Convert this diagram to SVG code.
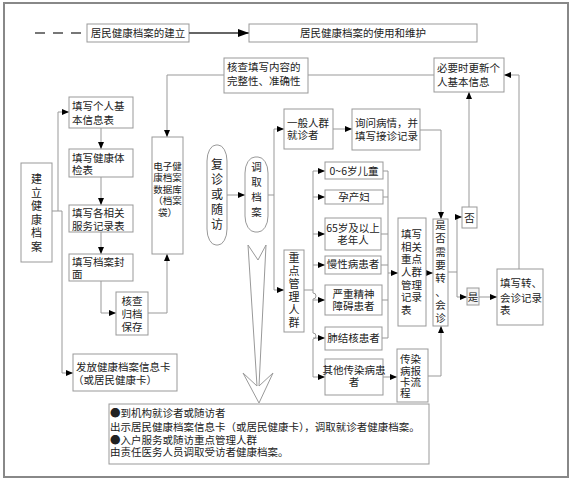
<svg xmlns="http://www.w3.org/2000/svg" width="573" height="480" viewBox="0 0 573 480">
<style>
.b{fill:#fff;stroke:#999;stroke-width:1}
.t{font-family:"Noto Sans CJK SC","Noto Sans",sans-serif;font-size:10.5px;fill:#222}
.s{font-size:9.5px}
.v{font-size:11px}
.c{text-anchor:middle}
.ln{fill:none;stroke:#999;stroke-width:1}
</style>
<defs>
<marker id="ah" markerWidth="7" markerHeight="6" refX="7" refY="3" orient="auto" markerUnits="userSpaceOnUse"><path d="M0,0 L7,3 L0,6 z" fill="#000"/></marker>
<marker id="ah2" markerWidth="11" markerHeight="8" refX="11" refY="4" orient="auto" markerUnits="userSpaceOnUse"><path d="M0,0 L11,4 L0,8 z" fill="#000"/></marker>
</defs>
<rect x="4" y="3" width="564" height="474" fill="#fff" stroke="#888" stroke-width="2"/>

<g id="legend">
<line x1="35" y1="33" x2="86" y2="33" stroke="#777" stroke-width="2" stroke-dasharray="10,8"/>
<rect class="b" x="87" y="24" width="102" height="18"/>
<text class="t c" x="138" y="37">居民健康档案的建立</text>
<line x1="189" y1="33" x2="249" y2="33" stroke="#666" stroke-width="2" marker-end="url(#ah2)"/>
<rect class="b" x="249" y="24" width="228" height="18"/>
<text class="t c" x="363" y="37">居民健康档案的使用和维护</text>
</g>

<g id="chevron">
<polygon points="248,245 258,260 266,245 259,386 273,373 259,403 243,373 257,386" fill="#fff" stroke="#999" stroke-width="1"/>
</g>

<g id="connectors">
<path class="ln" d="M52,211 H58 V112 H69" marker-end="url(#ah)"/>
<path class="ln" d="M58,211 H62 V373 H73" marker-end="url(#ah)"/>
<path class="ln" d="M101,128 V149" marker-end="url(#ah)"/>
<path class="ln" d="M101,177 V205" marker-end="url(#ah)"/>
<path class="ln" d="M101,232 V254" marker-end="url(#ah)"/>
<path class="ln" d="M101,281 V313 H116" marker-end="url(#ah)"/>
<path class="ln" d="M148,313 H167 V254" marker-end="url(#ah)"/>
<path class="ln" d="M224,75 H167 V137" marker-end="url(#ah)"/>
<path class="ln" d="M308,75 H434"/>
<path class="ln" d="M469,207 V92" marker-end="url(#ah)"/>
<path class="ln" d="M519,269 V75 H504" marker-end="url(#ah)"/>
<path class="ln" d="M227,195 H245" marker-end="url(#ah)"/>
<path class="ln" d="M268,195 H274 V129 H284" marker-end="url(#ah)"/>
<path class="ln" d="M274,195 V290 H284" marker-end="url(#ah)"/>
<path class="ln" d="M333,129 H352" marker-end="url(#ah)"/>
<path class="ln" d="M420,130 H441 V219" marker-end="url(#ah)"/>
<path class="ln" d="M304,290 H313"/>
<path class="ln" d="M313,171 V293 A3,3 0 0 1 313,299 V333 A3,3 0 0 1 313,339 V377"/>
<path class="ln" d="M313,171 H325" marker-end="url(#ah)"/>
<path class="ln" d="M313,197 H325" marker-end="url(#ah)"/>
<path class="ln" d="M313,234 H325" marker-end="url(#ah)"/>
<path class="ln" d="M313,265 H325" marker-end="url(#ah)"/>
<path class="ln" d="M313,300 H325" marker-end="url(#ah)"/>
<path class="ln" d="M313,338 H325" marker-end="url(#ah)"/>
<path class="ln" d="M313,377 H325" marker-end="url(#ah)"/>
<path class="ln" d="M383,171 H388 V338 H382 M383,197 H388 M381,234 H388 M381,265 H388 M382,300 H388"/>
<path class="ln" d="M388,273 H398" marker-end="url(#ah)"/>
<path class="ln" d="M426,273 H433" marker-end="url(#ah)"/>
<path class="ln" d="M383,377 H397" marker-end="url(#ah)"/>
<path class="ln" d="M428,376 H441 V326" marker-end="url(#ah)"/>
<path class="ln" d="M448,272 H457 V217 H462" marker-end="url(#ah)"/>
<path class="ln" d="M457,272 V297 H467" marker-end="url(#ah)"/>
<path class="ln" d="M479,297 H497" marker-end="url(#ah)"/>
</g>

<g id="jianli">
<rect class="b" x="21" y="163" width="31" height="99"/>
<text class="t v c"><tspan x="36.5" y="183">建</tspan><tspan x="36.5" y="196.5">立</tspan><tspan x="36.5" y="210">健</tspan><tspan x="36.5" y="223.5">康</tspan><tspan x="36.5" y="237">档</tspan><tspan x="36.5" y="250.5">案</tspan></text>
</g>
<g id="tx1">
<rect class="b" x="69" y="97" width="64" height="31"/>
<text class="t"><tspan x="72" y="110">填写个人基</tspan><tspan x="72" y="124">本信息表</tspan></text>
</g>
<g id="tx2">
<rect class="b" x="69" y="149" width="64" height="28"/>
<text class="t"><tspan x="72" y="162">填写健康体</tspan><tspan x="72" y="174">检表</tspan></text>
</g>
<g id="tx3">
<rect class="b" x="69" y="205" width="64" height="27"/>
<text class="t"><tspan x="72" y="217">填写各相关</tspan><tspan x="72" y="230">服务记录表</tspan></text>
</g>
<g id="tx4">
<rect class="b" x="69" y="254" width="64" height="27"/>
<text class="t"><tspan x="72" y="266">填写档案封</tspan><tspan x="72" y="278">面</tspan></text>
</g>
<g id="archive">
<rect class="b" x="116" y="292" width="32" height="43"/>
<text class="t c"><tspan x="132" y="305">核查</tspan><tspan x="132" y="318">归档</tspan><tspan x="132" y="331">保存</tspan></text>
</g>
<g id="issue">
<rect class="b" x="73" y="354" width="104" height="37"/>
<text class="t"><tspan x="76" y="371">发放健康档案信息卡</tspan><tspan x="73" y="384">（或居民健康卡）</tspan></text>
</g>
<g id="edb">
<rect class="b" x="152" y="137" width="31" height="117"/>
<text class="t s c" x="167.5" y="169.5">电子健</text>
<text class="t s c" x="167.5" y="181">康档案</text>
<text class="t s c" x="167.5" y="192.5">数据库</text>
<text class="t s c" x="167.5" y="204">（档案</text>
<text class="t s c" x="167.5" y="215.5">袋）</text>
</g>
<g id="check">
<rect class="b" x="224" y="58" width="84" height="35"/>
<text class="t"><tspan x="227" y="71">核查填写内容的</tspan><tspan x="227" y="85">完整性、准确性</tspan></text>
</g>
<g id="update">
<rect class="b" x="434" y="58" width="70" height="34"/>
<text class="t"><tspan x="437" y="72">必要时更新个</tspan><tspan x="437" y="86">人基本信息</tspan></text>
</g>
<g id="revisit">
<rect class="b" x="207" y="145" width="20" height="100" rx="9" ry="16"/>
<text class="t c" style="font-size:12px"><tspan x="217" y="169">复</tspan><tspan x="217" y="184">诊</tspan><tspan x="217" y="199">或</tspan><tspan x="217" y="214">随</tspan><tspan x="217" y="229">访</tspan></text>
</g>
<g id="fetch">
<rect class="b" x="245" y="157" width="23" height="75" rx="10" ry="16"/>
<text class="t c"><tspan x="256.5" y="171">调</tspan><tspan x="256.5" y="186">取</tspan><tspan x="256.5" y="201">档</tspan><tspan x="256.5" y="216">案</tspan></text>
</g>
<g id="general">
<rect class="b" x="284" y="109" width="49" height="40"/>
<text class="t"><tspan x="287" y="127">一般人群</tspan><tspan x="287" y="139">就诊者</tspan></text>
</g>
<g id="ask">
<rect class="b" x="352" y="109" width="68" height="41"/>
<text class="t"><tspan x="355" y="127">询问病情，并</tspan><tspan x="355" y="140">填写接诊记录</tspan></text>
</g>
<g id="key">
<rect class="b" x="284" y="250" width="20" height="82"/>
<text class="t v c"><tspan x="294" y="262">重</tspan><tspan x="294" y="275">点</tspan><tspan x="294" y="288">管</tspan><tspan x="294" y="301">理</tspan><tspan x="294" y="314">人</tspan><tspan x="294" y="327">群</tspan></text>
</g>
<g id="c1">
<rect class="b" x="325" y="162" width="58" height="17"/>
<text class="t c" x="354" y="174.5">0~6岁儿童</text>
</g>
<g id="c2">
<rect class="b" x="325" y="190" width="58" height="14"/>
<text class="t c" x="354" y="201">孕产妇</text>
</g>
<g id="c3">
<rect class="b" x="325" y="218" width="56" height="32"/>
<text class="t c"><tspan x="353" y="232">65岁及以上</tspan><tspan x="353" y="244">老年人</tspan></text>
</g>
<g id="c4">
<rect class="b" x="325" y="256" width="56" height="18"/>
<text class="t c" x="353" y="268">慢性病患者</text>
</g>
<g id="c5">
<rect class="b" x="325" y="285" width="57" height="30"/>
<text class="t c"><tspan x="353.5" y="298">严重精神</tspan><tspan x="353.5" y="310">障碍患者</tspan></text>
</g>
<g id="c6">
<rect class="b" x="325" y="327" width="57" height="23"/>
<text class="t c" x="353.5" y="342">肺结核患者</text>
</g>
<g id="c7">
<rect class="b" x="325" y="359" width="58" height="36"/>
<text class="t c"><tspan x="354" y="374">其他传染病患</tspan><tspan x="354" y="386">者</tspan></text>
</g>
<g id="record">
<rect class="b" x="398" y="218" width="28" height="108"/>
<text class="t"><tspan x="401" y="238">填写</tspan><tspan x="401" y="250.7">相关</tspan><tspan x="401" y="263.3">重点</tspan><tspan x="401" y="276">人群</tspan><tspan x="401" y="288.7">管理</tspan><tspan x="401" y="301.3">记录</tspan><tspan x="401" y="314">表</tspan></text>
</g>
<g id="report">
<rect class="b" x="397" y="349" width="31" height="53"/>
<text class="t"><tspan x="400" y="363">传染</tspan><tspan x="400" y="374.5">病报</tspan><tspan x="400" y="386">卡流</tspan><tspan x="400" y="397">程</tspan></text>
</g>
<g id="need">
<rect class="b" x="433" y="219" width="15" height="107"/>
<text class="t c"><tspan x="440.5" y="229">是</tspan><tspan x="440.5" y="242.3">否</tspan><tspan x="440.5" y="255.6">需</tspan><tspan x="440.5" y="268.9">要</tspan><tspan x="440.5" y="282.2">转</tspan><tspan x="440.5" y="295.5">、</tspan><tspan x="440.5" y="308.8">会</tspan><tspan x="440.5" y="322.1">诊</tspan></text>
</g>
<g id="no">
<rect class="b" x="462" y="207" width="15" height="21"/>
<text class="t c" x="469.5" y="221.5">否</text>
</g>
<g id="yes">
<rect class="b" x="467" y="288" width="12" height="17" style="fill:#f4f4f4"/>
<text class="t c" x="473" y="300.5">是</text>
</g>
<g id="referral">
<rect class="b" x="497" y="269" width="46" height="56"/>
<text class="t"><tspan x="500" y="287">填写转、</tspan><tspan x="500" y="302">会诊记录</tspan><tspan x="500" y="314">表</tspan></text>
</g>
<g id="note">
<rect class="b" x="109" y="404" width="320" height="60"/>
<text class="t"><tspan x="110" y="417">●到机构就诊者或随访者</tspan><tspan x="110" y="431">出示居民健康档案信息卡（或居民健康卡），调取就诊者健康档案。</tspan><tspan x="110" y="444">●入户服务或随访重点管理人群</tspan><tspan x="110" y="456">由责任医务人员调取受访者健康档案。</tspan></text>
</g>
</svg>
